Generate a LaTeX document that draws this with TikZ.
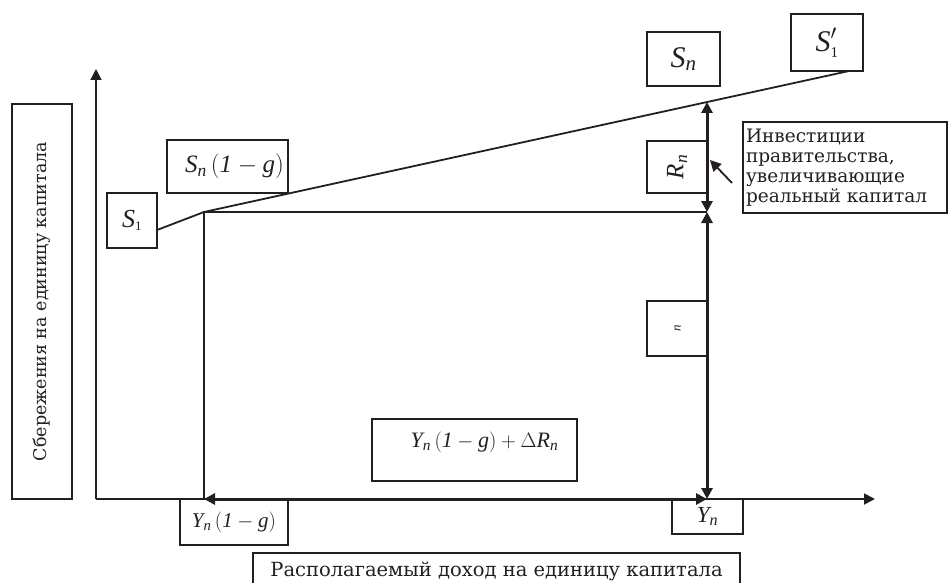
\documentclass[tikz,border=0pt]{standalone}
\usepackage{amsmath}
\usepackage{fontspec}
\setmainfont{DejaVu Serif}
\newfontfamily\tms{Liberation Serif}
\newcommand\mi[1]{\text{\tms\itshape #1}}
\newcommand\mup[1]{\text{\tms #1}}
\usetikzlibrary{arrows.meta}
\definecolor{ink}{HTML}{231F20}
\tikzset{
  box/.style={draw=ink, line width=1.6pt, inner sep=0pt, outer sep=0pt, text=ink},
  ln/.style={draw=ink, line width=1.8pt},
  thk/.style={draw=ink, line width=3pt},
  tip/.style={-{Triangle[length=11pt,width=11pt]}},
  dtip/.style={{Triangle[length=11pt,width=11pt]}-{Triangle[length=11pt,width=11pt]}},
  fs/.style={font=\fontsize{#1}{#1}\selectfont},
}
\begin{document}
\begin{tikzpicture}[x=1pt,y=-1pt]
\useasboundingbox (0,0) rectangle (950,583);
% coordinates
\coordinate (O) at (96,499);
\coordinate (Ytop) at (96,69);
\coordinate (Xend) at (875,499);
\coordinate (A) at (204,499);
\coordinate (B) at (204,212);
\coordinate (C) at (707,212);
\coordinate (D) at (707,499);
\coordinate (E) at (707,102);
\coordinate (L0) at (157,230);
\coordinate (L1) at (849,71);
\coordinate (P0) at (732,183);
\coordinate (P1) at (710,160);
% axis labels
\node[box, fs=17.5, rotate=90, minimum width=395pt, minimum height=60pt] (ylab) at (42,301.5) {Сбережения на единицу капитала\hspace{34pt}};
\node[box, fs=19.5, minimum width=487pt, minimum height=37pt] (xlab) at (496.5,571.5) {Располагаемый доход на единицу капитала};
% boxes
\node[box, fs=26, minimum width=50pt, minimum height=55pt] (s1) at (132,220.5) {$\mi{S}_{\scriptscriptstyle\mup{1}}$};
\node[box, fs=25, minimum width=121pt, minimum height=53pt] (sng) at (227.5,166.5) {\hspace{14pt}$\mi{S}_{\mi{n}}\,(\mi{1}-\mi{g})$};
\node[box, fs=30, minimum width=73pt, minimum height=54pt] (sn) at (683.5,59) {$\mi{S}_{\mi{n}}$};
\node[box, fs=30, minimum width=72pt, minimum height=57pt] (s1p) at (827,42.5) {$\mi{S}'_{\scriptscriptstyle\mup{1}}$};
\node[box, fs=25, rotate=90, minimum width=52pt, minimum height=60pt] (rn) at (677,167) {$\mi{R}_{\mi{n}}$};
\node[box, minimum width=204pt, minimum height=91pt] (inv) at (845,167.5) {\parbox{198pt}{\fontsize{18.5}{20}\selectfont Инвестиции\\правительства,\\увеличивающие\\реальный капитал}};
\node[box, rotate=90, minimum width=55pt, minimum height=61pt, fs=13] (nb) at (677.5,328.5) {$\mi{n}$};
\node[box, fs=22, minimum width=205pt, minimum height=62pt, text depth=20pt] (dr) at (474.5,450) {\hspace{20pt}$\mi{Y}_{\mi{n}}\,(\mi{1}-\mi{g})+\Delta \mi{R}_{\mi{n}}$};
\node[box, fs=21, minimum width=108pt, minimum height=46pt] (yng) at (234,522) {$\mi{Y}_{\mi{n}}\,(\mi{1}-\mi{g})$};
\node[box, fs=23, minimum width=71pt, minimum height=35pt] (yn) at (707.5,516.5) {$\mi{Y}_{\mi{n}}$};
% axes
\draw[ln, tip] (O) -- (Ytop);
\draw[ln, tip] (O) -- (Xend);
% rectangle
\draw[ln] (A) -- (B) -- (C);
% thick double arrows
\draw[thk, dtip] (A) -- (D);
\draw[thk, dtip] (D) -- (C);
\draw[thk, dtip] (C) -- (E);
% savings line
\draw[ln] (L0) -- (B) -- (L1);
% annotation arrow
\draw[ln, tip] (P0) -- (P1);
\end{tikzpicture}
\end{document}
